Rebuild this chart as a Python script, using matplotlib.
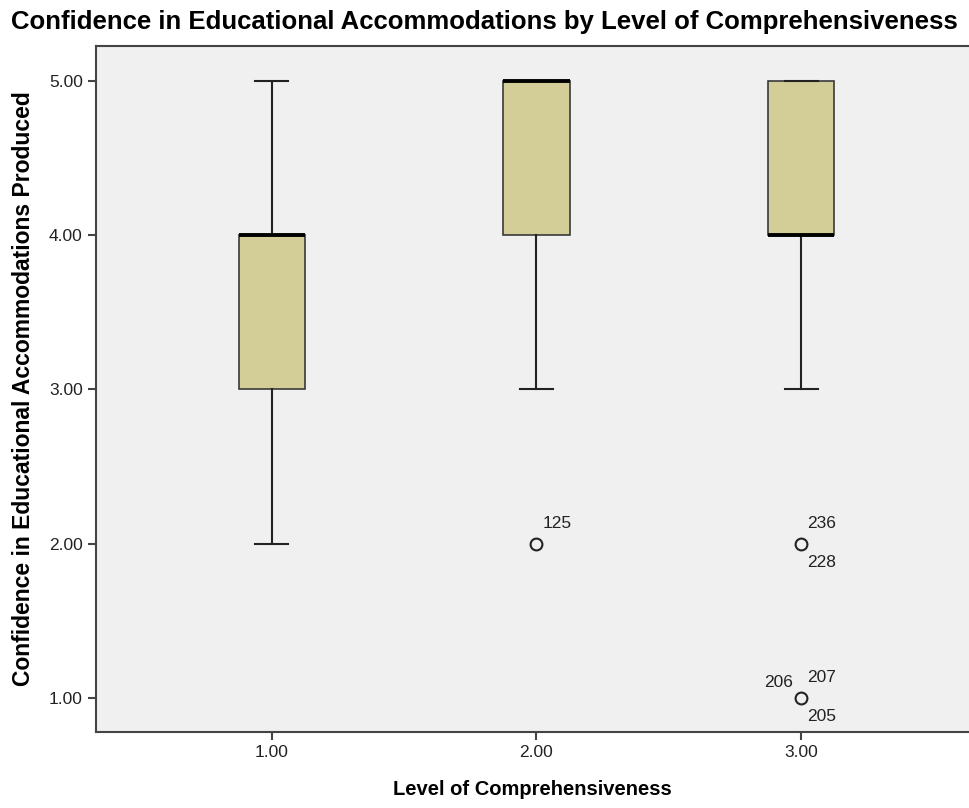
import matplotlib.pyplot as plt

plt.rcParams['font.family'] = ['Liberation Sans', 'DejaVu Sans']

# box statistics
groups = [1.0, 2.0, 3.0]
q1 = [3.0, 4.0, 4.0]
median = [4.0, 5.0, 4.0]
q3 = [4.0, 5.0, 5.0]
whisker_low = [2.0, 3.0, 3.0]
whisker_high = [5.0, 5.0, 5.0]
outliers = [[], [2.0], [2.0, 1.0]]

# case labels next to outliers: (group, value, label, side)
case_labels = [
    (2.0, 2.0, '125', 'upper right'),
    (3.0, 2.0, '236', 'upper right'),
    (3.0, 2.0, '228', 'lower right'),
    (3.0, 1.0, '207', 'upper right'),
    (3.0, 1.0, '206', 'upper left'),
    (3.0, 1.0, '205', 'lower right'),
]

tick_labels = ['1.00', '2.00', '3.00']
y_ticks = [1.0, 2.0, 3.0, 4.0, 5.0]

stats = []
for i in range(len(groups)):
    stats.append({'med': median[i], 'q1': q1[i], 'q3': q3[i],
                  'whislo': whisker_low[i], 'whishi': whisker_high[i],
                  'fliers': outliers[i]})

fig = plt.figure(figsize=(9.69, 8.08), dpi=100)
ax = fig.add_axes([96 / 969, 76 / 808, 1 - 96 / 969, 686 / 808])
ax.set_facecolor('#f0f0f0')

ax.bxp(stats, positions=groups, widths=0.25, patch_artist=True,
       boxprops=dict(facecolor='#d3ce97', edgecolor='#3a3a3a', linewidth=1.2),
       medianprops=dict(color='black', linewidth=2.8),
       whiskerprops=dict(color='#222222', linewidth=1.5),
       capprops=dict(color='#222222', linewidth=1.5),
       capwidths=0.125,
       flierprops=dict(marker='o', markersize=8.5, markerfacecolor='none',
                       markeredgecolor='#222222', markeredgewidth=1.5))

offsets = {'upper right': (6, 13, 'left'), 'lower right': (6, -26, 'left'),
           'upper left': (-8, 8, 'right')}
for gx, gy, lab, side in case_labels:
    dx, dy, ha = offsets[side]
    ax.annotate(lab, (gx, gy), xytext=(dx, dy), textcoords='offset pixels',
                ha=ha, va='bottom', fontsize=12.5, color='#222222')

ax.set_xlim(0.336, 3.634)
ax.set_ylim(0.779, 5.227)
ax.set_xticks(groups)
ax.set_xticklabels(tick_labels)
ax.set_yticks(y_ticks)
ax.set_yticklabels(['%.2f' % v for v in y_ticks])
ax.tick_params(axis='both', labelsize=12.5, labelcolor='#222222', color='#444444',
               length=6, width=1.5)
ax.spines['right'].set_visible(False)
for s in ['left', 'bottom', 'top']:
    ax.spines[s].set_color('#444444')
    ax.spines[s].set_linewidth(1.5)

ax.set_xlabel('Level of Comprehensiveness', fontsize=14.5, fontweight='bold', labelpad=14)
ax.set_ylabel('Confidence in Educational Accommodations Produced', fontsize=16.5,
              fontweight='bold', labelpad=10)
fig.text(0.5, 1 - 22 / 808, 'Confidence in Educational Accommodations by Level of Comprehensiveness',
         ha='center', va='center', fontsize=18.5, fontweight='bold')

fig.savefig('out.png', dpi=100)
